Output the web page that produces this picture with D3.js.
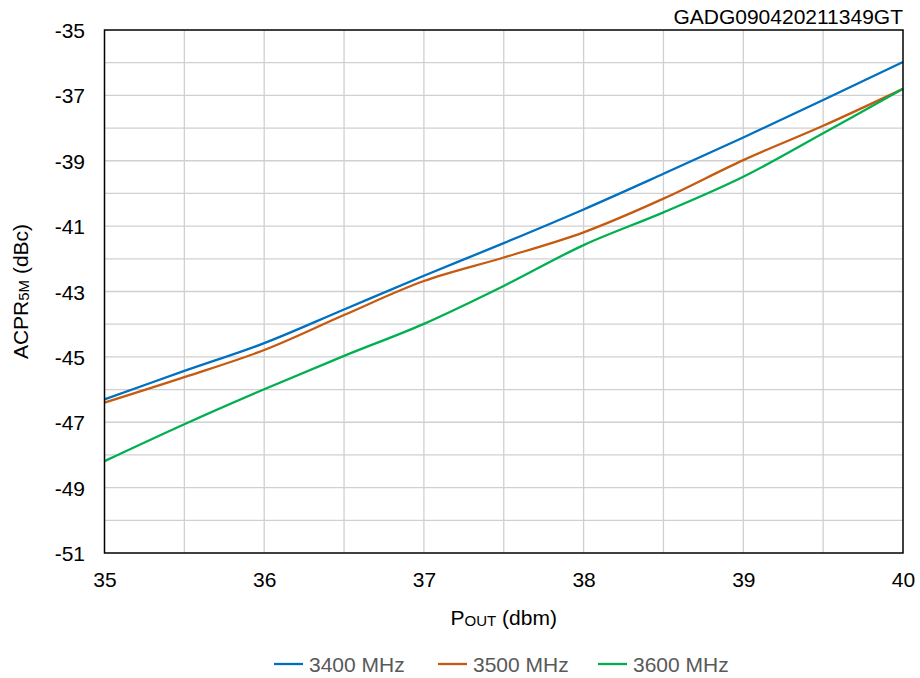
<!DOCTYPE html>
<html>
<head>
<meta charset="utf-8">
<script src="https://cdn.jsdelivr.net/npm/d3@7"></script>
<style>
  body { margin: 0; background: #fff; }
  text { font-family: "Liberation Sans", Arial, sans-serif; }
</style>
</head>
<body>
<svg id="chart" width="920" height="678"></svg>
<script>
const pout = [35, 35.5, 36, 36.5, 37, 37.5, 38, 38.5, 39, 39.5, 40];
const acpr3400 = [-46.30, -45.43, -44.58, -43.55, -42.52, -41.52, -40.49, -39.40, -38.29, -37.14, -35.98];
const acpr3500 = [-46.40, -45.62, -44.79, -43.72, -42.68, -41.96, -41.19, -40.16, -38.98, -37.93, -36.80];
const acpr3600 = [-48.19, -47.06, -45.99, -44.97, -43.99, -42.83, -41.58, -40.58, -39.49, -38.16, -36.80];
const seriesNames = ["3400 MHz", "3500 MHz", "3600 MHz"];
const seriesColors = ["#0070C0", "#C55A11", "#00B050"];
const xTicks = [35, 36, 37, 38, 39, 40];
const yTicks = [-35, -37, -39, -41, -43, -45, -47, -49, -51];
const chartId = "GADG090420211349GT";

const svg = d3.select("#chart");
const L = 104.5, R = 903, T = 30, B = 553;
const x = d3.scaleLinear().domain([35, 40]).range([L, R]);
const y = d3.scaleLinear().domain([-51, -35]).range([B, T]);

// grid
const g = svg.append("g");
g.selectAll("line.vx").data(d3.range(35.5, 40, 0.5)).enter().append("line")
  .attr("x1", d => x(d)).attr("x2", d => x(d)).attr("y1", T).attr("y2", B)
  .attr("stroke", "#d0d0d0").attr("stroke-width", 1.3);
g.selectAll("line.hy").data(d3.range(-50, -35, 1)).enter().append("line")
  .attr("y1", d => y(d)).attr("y2", d => y(d)).attr("x1", L).attr("x2", R)
  .attr("stroke", "#d0d0d0").attr("stroke-width", 1.3);

// series
const all = [acpr3400, acpr3500, acpr3600];
const line = d3.line().x(d => x(d[0])).y(d => y(d[1])).curve(d3.curveCatmullRom.alpha(0.5));
all.forEach((vals, i) => {
  svg.append("path")
    .datum(pout.map((p, j) => [p, vals[j]]))
    .attr("d", line).attr("fill", "none")
    .attr("stroke", seriesColors[i]).attr("stroke-width", 2.3);
});

// frame
svg.append("rect").attr("x", L).attr("y", T).attr("width", R - L).attr("height", B - T)
  .attr("fill", "none").attr("stroke", "#000").attr("stroke-width", 1.5);

// axes
const xAxis = d3.axisBottom(x).tickValues(xTicks).tickSize(0).tickPadding(0).tickFormat(d => String(d));
const xa = svg.append("g").attr("transform", `translate(0,${B})`).call(xAxis);
xa.select(".domain").remove();
xa.selectAll("text").attr("dy", null).attr("y", 34).attr("font-size", 21).attr("fill", "#000")
  .attr("font-family", "Liberation Sans, Arial, sans-serif");

const yAxis = d3.axisLeft(y).tickValues(yTicks).tickSize(0).tickPadding(0).tickFormat(d => String(d));
const ya = svg.append("g").attr("transform", `translate(${L},0)`).call(yAxis);
ya.select(".domain").remove();
ya.selectAll("text").attr("x", -19.5).attr("dy", "0.36em").attr("font-size", 21).attr("fill", "#000")
  .attr("font-family", "Liberation Sans, Arial, sans-serif");

// chart id
svg.append("text").attr("x", R).attr("y", 24).attr("text-anchor", "end")
  .attr("font-size", 21).attr("fill", "#000").text(chartId);

// x title
const xt = svg.append("text").attr("x", (L + R) / 2).attr("y", 625).attr("text-anchor", "middle")
  .attr("font-size", 21).attr("fill", "#000");
xt.append("tspan").text("P");
xt.append("tspan").attr("font-size", 15).attr("dy", 1).text("OUT");
xt.append("tspan").attr("dy", -1).text(" (dbm)");

// y title
const yt = svg.append("text").attr("transform", `translate(28,${(T + B) / 2}) rotate(-90)`)
  .attr("text-anchor", "middle").attr("font-size", 21).attr("fill", "#000");
yt.append("tspan").text("ACPR");
yt.append("tspan").attr("font-size", 15).attr("dy", 1).text("5M");
yt.append("tspan").attr("dy", -1).text(" (dBc)");

// legend
const legX = [274, 438, 598];
const leg = svg.append("g");
seriesNames.forEach((n, i) => {
  leg.append("line").attr("x1", legX[i]).attr("x2", legX[i] + 29).attr("y1", 664).attr("y2", 664)
    .attr("stroke", seriesColors[i]).attr("stroke-width", 2.3);
  leg.append("text").attr("x", legX[i] + 35).attr("y", 664).attr("dy", "0.36em")
    .attr("font-size", 21).attr("fill", "#595959").text(n);
});
</script>
</body>
</html>
